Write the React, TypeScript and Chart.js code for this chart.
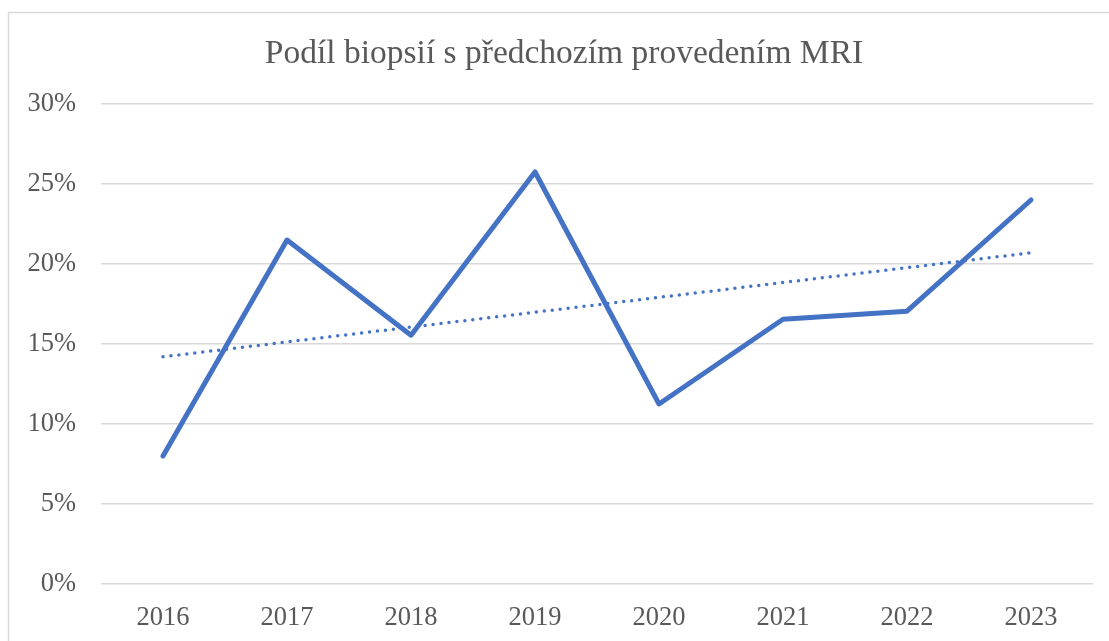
import React, { useEffect, useRef } from "react";
import { Chart, registerables } from "chart.js";

Chart.register(...registerables);

const titleText = "Podíl biopsií s předchozím provedením MRI";
const years = ["2016", "2017", "2018", "2019", "2020", "2021", "2022", "2023"];
const shareValues = [8.0, 21.5, 15.55, 25.75, 11.25, 16.55, 17.05, 24.0];
const trendValues = [14.2, null, null, null, null, null, null, 20.7];
const yTicks = [0, 5, 10, 15, 20, 25, 30];

const BLUE = "#4472C4";
const TEXT = "#595959";
const GRID = "#d9d9d9";
const FONT = "'Liberation Serif', 'Times New Roman', serif";

const borderPlugin = {
  id: "outerBorder",
  afterDraw(chart: any) {
    const ctx = chart.ctx;
    ctx.save();
    ctx.strokeStyle = GRID;
    ctx.lineWidth = 1.5;
    ctx.strokeRect(8.5, 12.5, chart.width + 20, chart.height + 20);
    ctx.restore();
  },
};

export default function App() {
  const ref = useRef<HTMLCanvasElement>(null);
  useEffect(() => {
    if (!ref.current) return;
    const chart = new Chart(ref.current, {
      type: "line",
      data: {
        labels: years,
        datasets: [
          {
            label: "Podíl",
            data: shareValues,
            borderColor: BLUE,
            backgroundColor: BLUE,
            borderWidth: 5,
            pointRadius: 0,
            tension: 0,
            borderJoinStyle: "round",
            borderCapStyle: "round",
          },
          {
            label: "Trend",
            data: trendValues as any,
            spanGaps: true,
            borderColor: BLUE,
            borderWidth: 3.5,
            borderDash: [0, 8],
            borderCapStyle: "round",
            pointRadius: 0,
          },
        ],
      },
      plugins: [borderPlugin],
      options: {
        animation: false,
        responsive: false,
        layout: { padding: { top: 0, right: 0, bottom: 0, left: 19 } },
        plugins: {
          legend: { display: false },
          tooltip: { enabled: false },
          title: {
            display: true,
            text: titleText,
            color: TEXT,
            font: { family: FONT, size: 33.5, weight: "normal" },
            padding: { top: 34, bottom: 29.8 },
          },
        },
        scales: {
          x: {
            offset: true,
            grid: { display: false },
            border: { display: false },
            ticks: {
              color: TEXT,
              font: { family: FONT, size: 26.5 },
              padding: 10,
              maxRotation: 0,
            },
            afterFit(s: any) {
              s.height = 57;
            },
          },
          y: {
            min: 0,
            max: 30,
            afterBuildTicks(s: any) {
              s.ticks = yTicks.map((v) => ({ value: v }));
            },
            grid: { color: GRID, lineWidth: 1.5, drawTicks: false },
            border: { display: false },
            ticks: {
              color: TEXT,
              font: { family: FONT, size: 26.5 },
              padding: 25,
              callback: (v: any) => v + "%",
            },
            afterFit(s: any) {
              s.width = 82;
            },
          },
          yRight: {
            position: "right",
            min: 0,
            max: 30,
            grid: { display: false },
            border: { display: false },
            ticks: { display: false },
            afterFit(s: any) {
              s.width = 16;
            },
          },
        },
      },
    });
    return () => chart.destroy();
  }, []);
  return (
    <div style={{ position: "absolute", left: 0, top: 0, width: 1109, height: 641 }}>
      <canvas ref={ref} width={1109} height={641} />
    </div>
  );
}
